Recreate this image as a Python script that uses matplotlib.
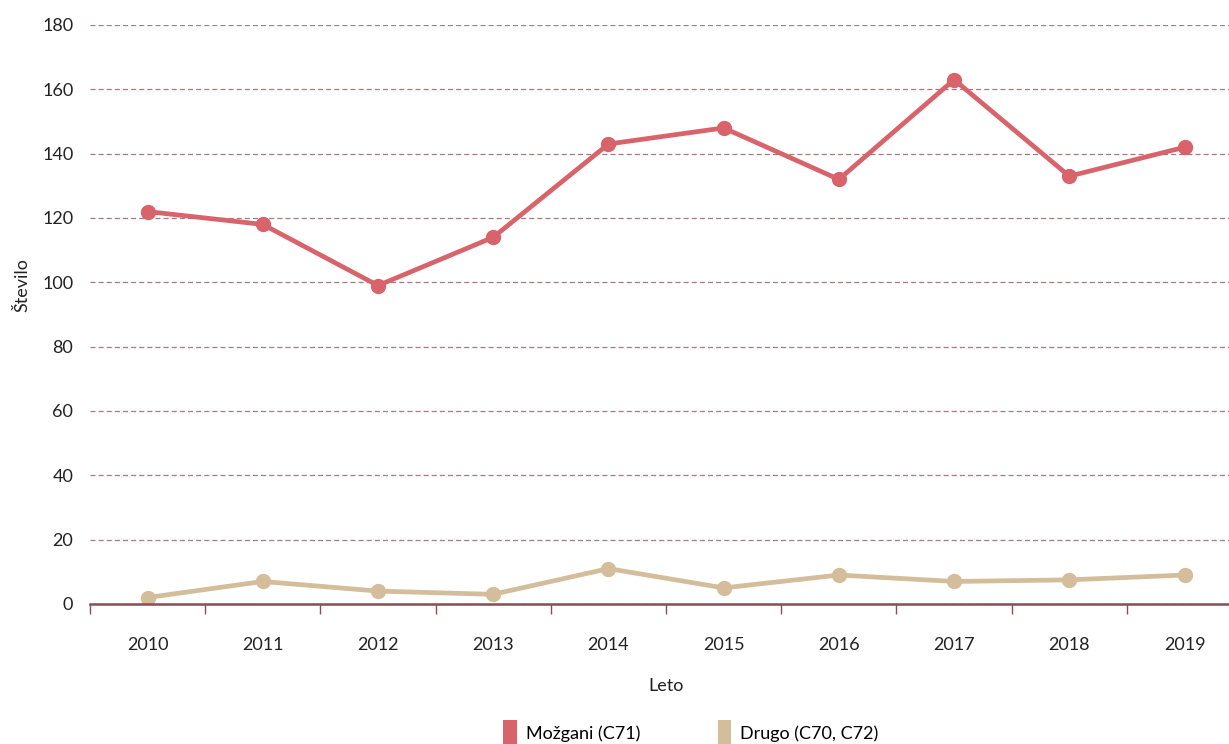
import matplotlib
matplotlib.use('Agg')
import matplotlib.pyplot as plt
from matplotlib.patches import Patch
from matplotlib.ticker import FixedLocator

years = ['2010', '2011', '2012', '2013', '2014', '2015', '2016', '2017', '2018', '2019']
mozgani = [122, 118, 99, 114, 143, 148, 132, 163, 133, 142]
drugo = [2, 7, 4, 3, 11, 5, 9, 7, 7.5, 9]
series_names = ['Možgani (C71)', 'Drugo (C70, C72)']

plt.rcParams['font.family'] = ['Lato', 'DejaVu Sans']

red = '#d9636b'
beige = '#d3bd9a'
axis_col = '#8e4a55'
grid_col = '#a8787f'
txt = '#222222'

fig = plt.figure(figsize=(12.29, 7.44), dpi=100)
ax = fig.add_axes([0.0732, 0.1882, 0.9375, 0.7782])

x = list(range(len(years)))
ax.plot(x, mozgani, color=red, lw=3.4, marker='o', ms=10, zorder=3)
ax.plot(x, drugo, color=beige, lw=3.4, marker='o', ms=10, zorder=3)

ax.set_xlim(-0.5, len(years) - 0.5)
ax.set_ylim(0, 180)
ax.set_yticks(range(0, 181, 20))
ax.yaxis.grid(True, color=grid_col, ls=(0, (4, 2.5)), lw=0.9)
ax.set_axisbelow(True)

for s in ['left', 'right', 'top']:
    ax.spines[s].set_visible(False)
ax.spines['bottom'].set_color(axis_col)
ax.spines['bottom'].set_linewidth(1.8)
ax.spines['bottom'].set_zorder(4)

ax.set_xticks(x)
ax.set_xticklabels(years, fontsize=13, color=txt)
ax.tick_params(axis='x', which='major', length=0, pad=24)
ax.xaxis.set_minor_locator(FixedLocator([i - 0.5 for i in range(len(years) + 1)]))
ax.tick_params(axis='x', which='minor', length=7, width=1, color=axis_col)
ax.tick_params(axis='y', length=0, pad=12, labelsize=13, labelcolor=txt)

ax.set_xlabel('Leto', fontsize=13, color=txt, labelpad=18)
ax.set_ylabel('Število', fontsize=13, color=txt, va='center')
ax.yaxis.set_label_coords(-0.059, 0.55)

handles = [Patch(facecolor=red, edgecolor='none'), Patch(facecolor=beige, edgecolor='none')]
fig.legend(handles, series_names, loc='lower center', bbox_to_anchor=(0.562, -0.025),
           ncol=2, frameon=False, fontsize=13, handlelength=0.75, handleheight=1.9,
           handletextpad=0.5, columnspacing=4.3)

fig.savefig('out.png', dpi=100)
